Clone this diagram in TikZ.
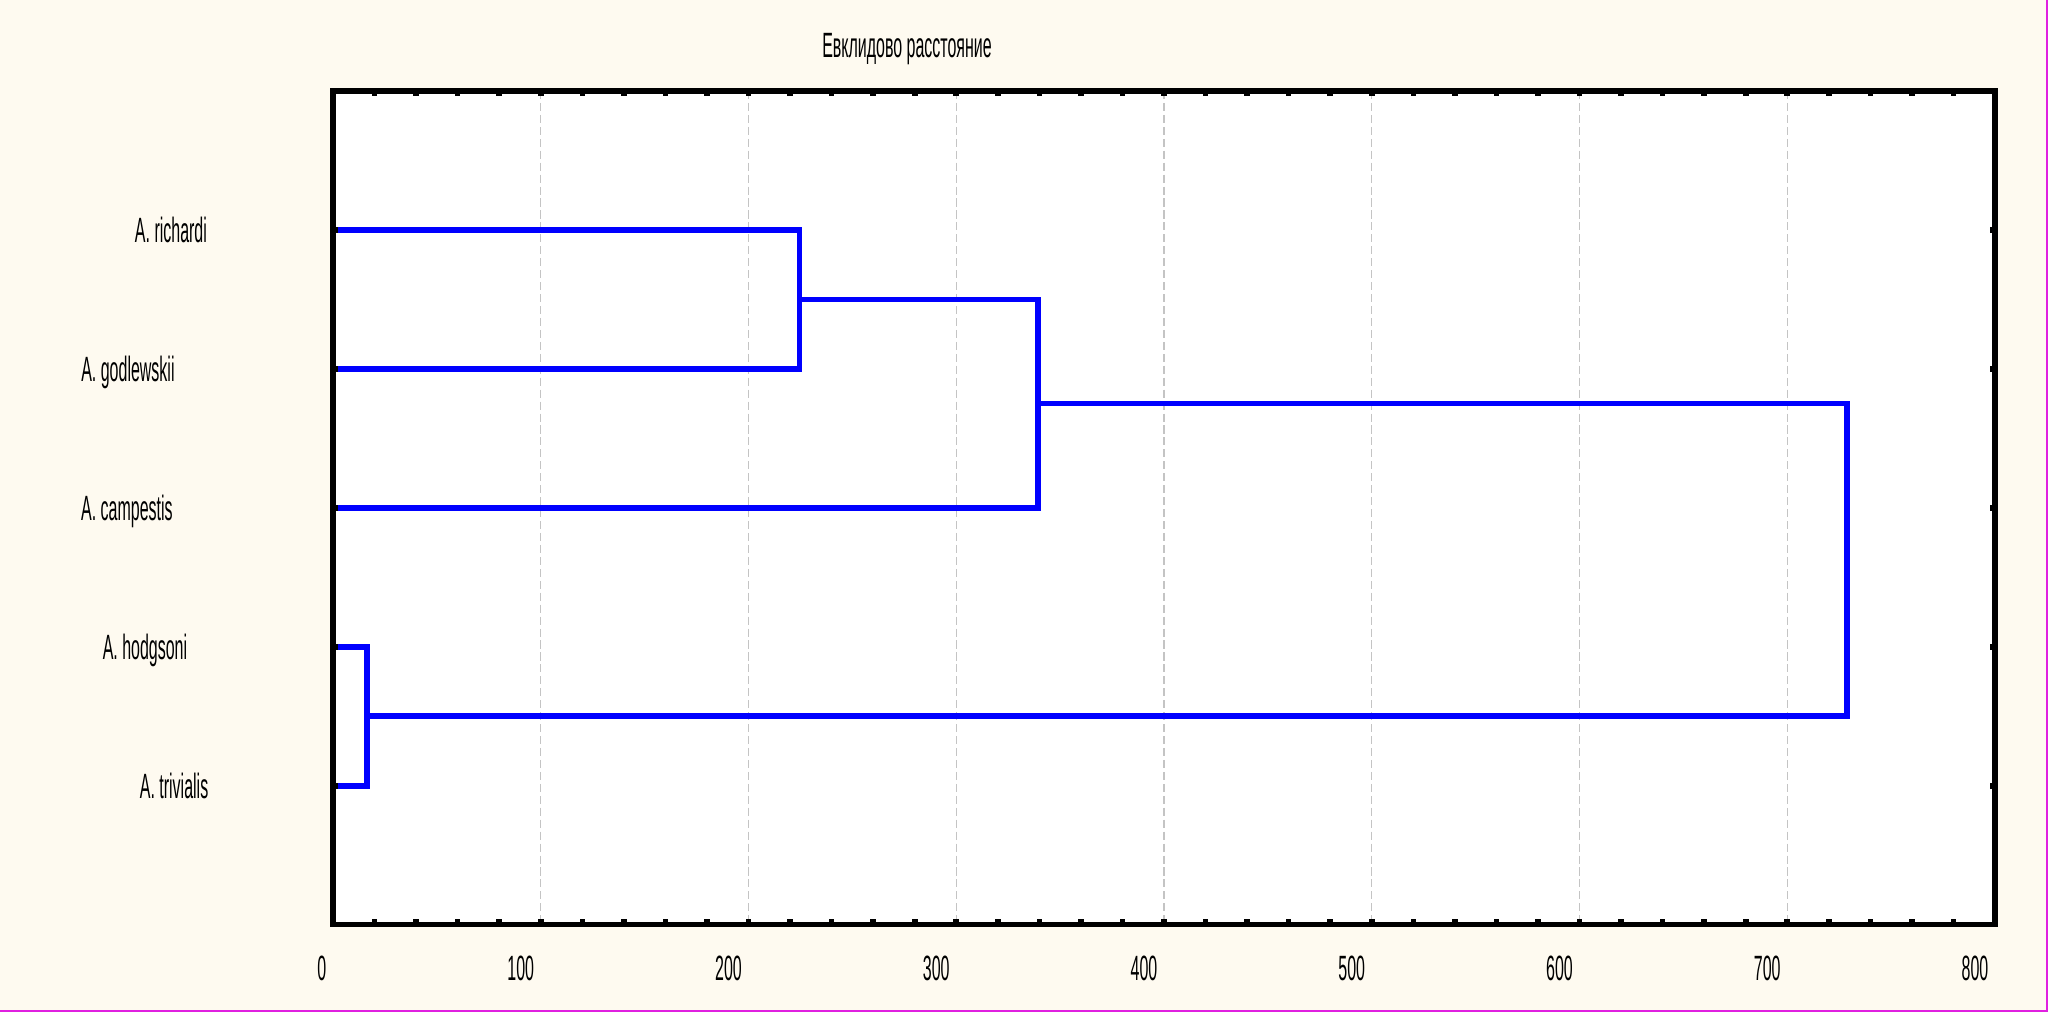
\documentclass[tikz,border=0pt]{standalone}
\usepackage{fontspec}
\setmainfont[FakeStretch=0.455]{Liberation Sans}
\usepackage{tikz}

\definecolor{paper}{RGB}{254,250,240}
\definecolor{gridgray}{RGB}{196,196,196}
\definecolor{edgepink}{RGB}{224,32,224}

\begin{document}
\begin{tikzpicture}[x=0.020775cm, y=-1.39cm,
		frame/.style={line width=1.5pt, line cap=rect},
		tickmark/.style={line width=1.6pt},
		branch/.style={line width=1.6pt, color=blue},
		gridline/.style={gridgray, line width=0.3pt, dash pattern=on 2.3pt off 1.1pt},
		leaf/.style={font=\fontsize{10}{12}\selectfont, inner sep=0pt, text height=7.2pt, text depth=0pt},
		ticklabel/.style={leaf, anchor=east, xshift=-0.06cm}]
				% page and plot area
				\fill[paper] (-160.29, -0.6547) rectangle (825.51, 6.6259);
				\useasboundingbox (-160.29, -0.6547) rectangle (825.51, 6.6259);
				\draw[edgepink, line width=0.5pt] (-160.29, 6.6187) -- (825.03, 6.6187) -- (825.03, -0.6547);
				\fill[white] (0, 0) rectangle (800, 6);
				\foreach \v in {100,200,...,700}
					\draw[gridline] (\v, 0) -- (\v, 6);
				\node[leaf] (title) at (276.3, -0.331) {Евклидово расстояние};
				% leaves and merges
				\coordinate (rich) at (0, 1);
				\coordinate (godl) at (0, 2);
				\coordinate (camp) at (0, 3);
				\coordinate (hodg) at (0, 4);
				\coordinate (triv) at (0, 5);
				\coordinate (rg) at (224.5, 1.5);
				\coordinate (rgc) at (339.3, 2.25);
				\coordinate (ht) at (16.5, 4.5);
				\coordinate (root) at (728.8, 3.375);
				\draw[branch] (rich) -| (rg) |- (godl);
				\draw[branch] (rg) -| (rgc) |- (camp);
				\draw[branch] (hodg) -| (ht) |- (triv);
				\draw[branch] (rgc) -| (root) |- (ht);
				\node[leaf] (lrich) at (-78, 1) {A. richardi};
				\node[leaf] (lgodl) at (-98.7, 2) {A. godlewskii};
				\node[leaf] (lcamp) at (-99.2, 3) {A. campestis};
				\node[leaf] (lhodg) at (-90.5, 4) {A. hodgsoni};
				\node[leaf] (ltriv) at (-76.5, 5) {A. trivialis};
				% axes
				\draw[frame] (0, 0) rectangle (800, 6);
				\foreach \v in {20,40,...,780} {
					\draw[tickmark] (\v, 6) -- ++(0pt, 1.5pt);
					\draw[tickmark] (\v, 0) -- ++(0pt, -1.5pt);
				}
				\foreach \i in {1,...,5} {
					\draw[tickmark] (0, \i) -- ++(1.5pt, 0pt);
					\draw[tickmark] (800, \i) -- ++(-1.5pt, 0pt);
				}
				\foreach \v in {0,100,...,800}
					\node[ticklabel] (tick\v) at (\v, 6.309) {\v};
			\end{tikzpicture}
\end{document}
